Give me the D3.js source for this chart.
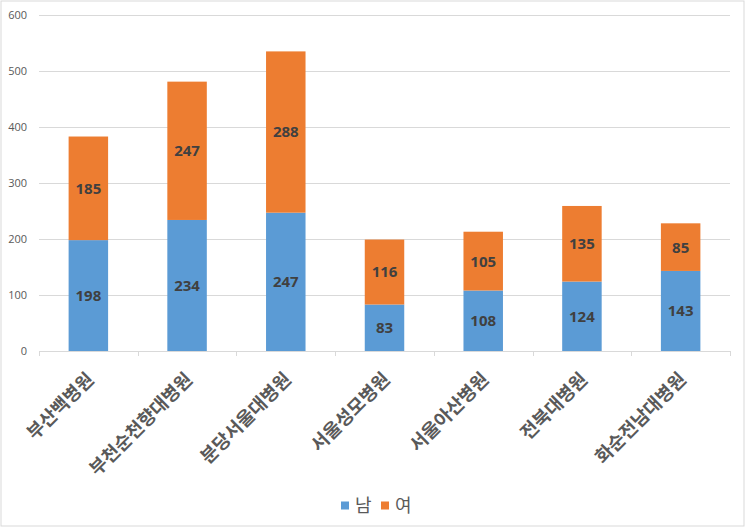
<!DOCTYPE html>
<html><head><meta charset="utf-8">
<script src="https://cdn.jsdelivr.net/npm/d3@7"></script>
<style>body{margin:0;background:#fff}svg{display:block}</style>
</head><body>
<svg id="c" width="746" height="528"></svg>
<script>
const categories = ["부산백병원","부천순천향대병원","분당서울대병원","서울성모병원","서울아산병원","전북대병원","화순전남대병원"];
const male = [198,234,247,83,108,124,143];
const female = [185,247,288,116,105,135,85];
const seriesNames = ["남","여"];
const colors = ["#5b9bd5","#ed7d31"];
const yTicks = [0,100,200,300,400,500,600];

const svg = d3.select("#c");
svg.append("rect").attr("x",1).attr("y",1).attr("width",743).attr("height",525)
  .attr("fill","#fff").attr("stroke","#d9d9d9").attr("stroke-width",1);

const L=39,R=730,T=15,B=351;
const x = d3.scaleBand().domain(categories).range([L,R]).paddingInner(0.6).paddingOuter(0.3);
const y = d3.scaleLinear().domain([0,600]).range([B,T]);

// gridlines
svg.append("g").selectAll("line").data(yTicks.filter(d=>d>0)).join("line")
  .attr("x1",L).attr("x2",R).attr("y1",d=>y(d)+0.5).attr("y2",d=>y(d)+0.5)
  .attr("stroke","#d9d9d9").attr("stroke-width",1);

// y axis labels
const yAxis = d3.axisLeft(y).tickValues(yTicks).tickSize(0).tickPadding(12);
const yg = svg.append("g").attr("transform",`translate(${L},0)`).call(yAxis);
yg.select(".domain").remove();
yg.selectAll("text").attr("fill","#595959").style("font-family","'Open Sans', 'Noto Sans', sans-serif").style("font-size","11px");

// stack
const rows = categories.map((c,i)=>({cat:c,m:male[i],f:female[i]}));
const stack = d3.stack().keys(["m","f"])(rows);
const g = svg.append("g");
stack.forEach((s,si)=>{
  g.selectAll(null).data(s).join("rect")
    .attr("x",d=>x(d.data.cat)).attr("width",x.bandwidth())
    .attr("y",d=>y(d[1])).attr("height",d=>y(d[0])-y(d[1]))
    .attr("fill",colors[si]);
  g.selectAll(null).data(s).join("text")
    .attr("x",d=>x(d.data.cat)+x.bandwidth()/2)
    .attr("y",d=>(y(d[0])+y(d[1]))/2)
    .attr("dy","0.36em").attr("text-anchor","middle")
    .attr("fill","#404040").style("font-family","'Open Sans','Noto Sans',sans-serif")
    .style("font-weight","bold").style("font-size","15px")
    .text(d=>d[1]-d[0]);
});

// x axis
svg.append("line").attr("x1",L).attr("x2",R).attr("y1",B+0.5).attr("y2",B+0.5).attr("stroke","#d9d9d9");
const bounds = d3.range(categories.length+1).map(i=>L+i*(R-L)/categories.length);
svg.append("g").selectAll("line").data(bounds).join("line")
  .attr("x1",d=>Math.round(d)+0.5).attr("x2",d=>Math.round(d)+0.5).attr("y1",B).attr("y2",B+5).attr("stroke","#d9d9d9");

svg.append("g").selectAll("text").data(categories).join("text")
  .attr("transform",d=>`translate(${x(d)+x.bandwidth()/2+2},${B+25}) rotate(-45)`)
  .attr("text-anchor","end").attr("dy","0.35em")
  .attr("fill","#595959").style("font-family","'Noto Sans CJK KR',sans-serif")
  .style("font-weight","bold").style("font-size","18.5px")
  .text(d=>d);

// legend
const lg = svg.append("g").attr("transform","translate(341,506)");
seriesNames.forEach((n,i)=>{
  const gx = i*40;
  lg.append("rect").attr("x",gx).attr("y",-4.5).attr("width",8).attr("height",8).attr("fill",colors[i]);
  lg.append("text").attr("x",gx+14).attr("y",0).attr("dy","0.36em")
    .attr("fill","#595959").style("font-family","'Noto Sans CJK KR',sans-serif").style("font-size","18px").text(n);
});
</script>
</body></html>
